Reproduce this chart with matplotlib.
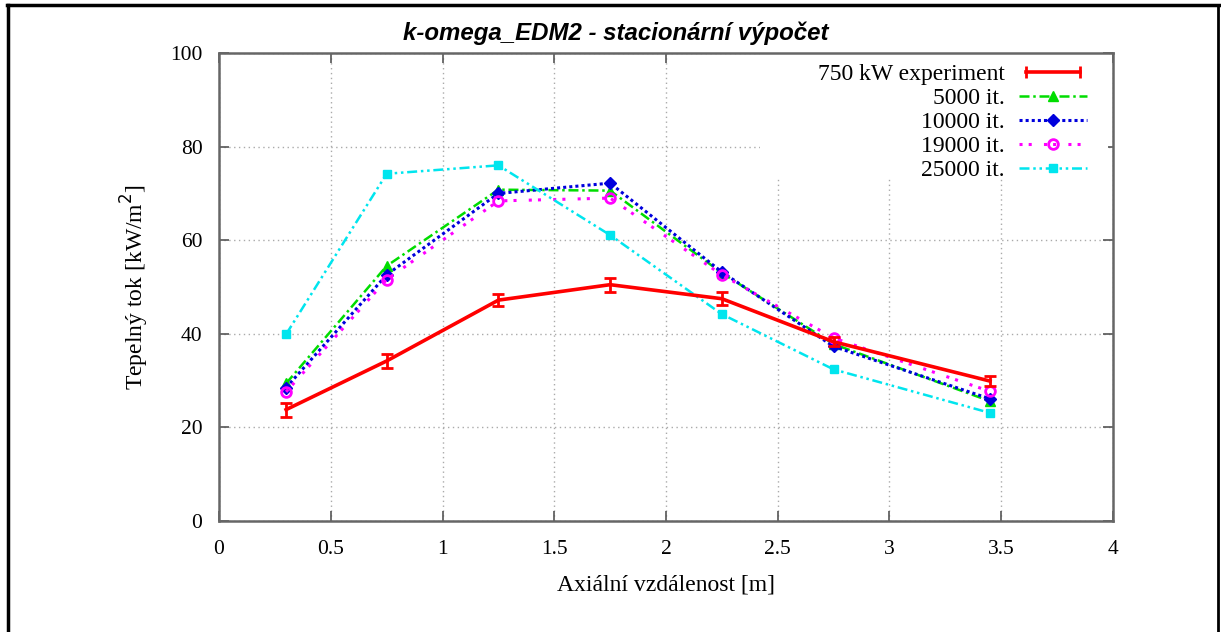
import matplotlib
matplotlib.use("Agg")
import matplotlib.pyplot as plt
from matplotlib.lines import Line2D
from matplotlib.patches import Rectangle
from matplotlib.legend_handler import HandlerLine2D

# Axial positions of measurement / evaluation points [m]
positions = [0.3, 0.75, 1.25, 1.75, 2.25, 2.75, 3.45]

# Measured heat flux, 750 kW experiment [kW/m^2] with uncertainty
experiment = [23.8, 34.2, 47.2, 50.5, 47.5, 38.3, 29.9]
experiment_err = [1.5, 1.5, 1.3, 1.5, 1.4, 1.0, 1.0]

# Computed heat flux after a given number of iterations
it_5000 = [29.4, 54.5, 70.8, 70.6, 53.0, 37.8, 25.6]
it_10000 = [28.5, 52.6, 70.0, 72.2, 53.2, 37.3, 26.1]
it_19000 = [27.6, 51.6, 68.4, 69.0, 52.6, 39.1, 27.7]
it_25000 = [39.9, 74.2, 76.0, 61.1, 44.2, 32.4, 23.1]

series_labels = ["750 kW experiment", "5000 it.", "10000 it.", "19000 it.", "25000 it."]
x_ticks = [0, 0.5, 1, 1.5, 2, 2.5, 3, 3.5, 4]
y_ticks = [0, 20, 40, 60, 80, 100]

serif = ["Liberation Serif", "DejaVu Serif"]
plt.rcParams["font.family"] = serif

fig = plt.figure(figsize=(12.21, 6.32), dpi=100)
ax = fig.add_axes([0.1794, 0.1756, 0.7321, 0.7405])

# Page frame (left, top, right edges)
fig.add_artist(Line2D([0.0065, 0.0065], [0.0, 0.9915], transform=fig.transFigure,
                      color="black", lw=2.5))
fig.add_artist(Line2D([0.0055, 0.9985], [0.9915, 0.9915], transform=fig.transFigure,
                      color="black", lw=2.5))
fig.add_artist(Line2D([0.9975, 0.9975], [0.0, 0.9915], transform=fig.transFigure,
                      color="black", lw=2.0))

red = "#ff0000"
ax.errorbar(positions, experiment, yerr=experiment_err, color=red,
            lw=2.6, elinewidth=2.0, capsize=4, capthick=2.0, zorder=5)
exp_h = Line2D([], [], color=red, lw=2.6, marker="|", ms=9, mew=2.0)

h5 = ax.plot(positions, it_5000, color="#00dd00", lw=1.8, ls=(0, (4, 1.5, 1, 1.5)),
             marker="^", ms=7, zorder=4)[0]
h10 = ax.plot(positions, it_10000, color="#0000dd", lw=2.2, ls=(0, (1, 1)),
              marker="D", ms=6, zorder=4)[0]
h19 = ax.plot(positions, it_19000, color="#ff00ff", lw=2.2, ls=(0, (1, 2, 1, 4)),
              marker="o", ms=7, mfc="none", mew=2, zorder=4)[0]
h25 = ax.plot(positions, it_25000, color="#00e5ee", lw=1.8, ls=(0, (4, 1.5, 1, 1.5, 1, 1.5)),
              marker="s", ms=6, zorder=4)[0]

ax.set_xlim(0, 4)
ax.set_ylim(0, 100)
ax.set_xticks(x_ticks)
ax.set_xticklabels([f"{t:g}" for t in x_ticks])
ax.set_yticks(y_ticks)
ax.tick_params(direction="in", top=True, right=True, length=7, width=1.2,
               color="#555555", labelsize=15.5, pad=12)
ax.tick_params(axis="x", pad=14)
for s in ax.spines.values():
    s.set_color("#666666")
    s.set_linewidth(1.8)
ax.grid(True, ls=(0, (1, 2.5)), color="#aaaaaa", lw=1.0)

# White key area over the grid
ax.add_patch(Rectangle((0.605, 0.733), 0.39, 0.267, transform=ax.transAxes,
                       facecolor="white", edgecolor="none", zorder=2))

ax.set_xlabel("Axiální vzdálenost [m]", fontsize=17, labelpad=11)
ax.set_ylabel("Tepelný tok [kW/m$^2$]", fontsize=17, labelpad=14)
fig.text(0.504, 0.948, "k-omega_EDM2 - stacionární výpočet", fontsize=17.3,
         fontweight="bold", style="italic", family=["Liberation Sans", "DejaVu Sans"],
         ha="center", va="center")

leg = ax.legend([exp_h, h5, h10, h19, h25], series_labels, loc="upper right",
                markerfirst=False, frameon=False, fontsize=17, handlelength=2.9,
                labelspacing=0.1, borderaxespad=0.3, handletextpad=0.6,
                bbox_to_anchor=(0.99, 1.012),
                handler_map={exp_h: HandlerLine2D(numpoints=2)})
leg.set_zorder(6)
for t in leg.get_texts():
    t.set_ha("right")
leg._legend_box.align = "right"

fig.savefig("out.png", dpi=100)
